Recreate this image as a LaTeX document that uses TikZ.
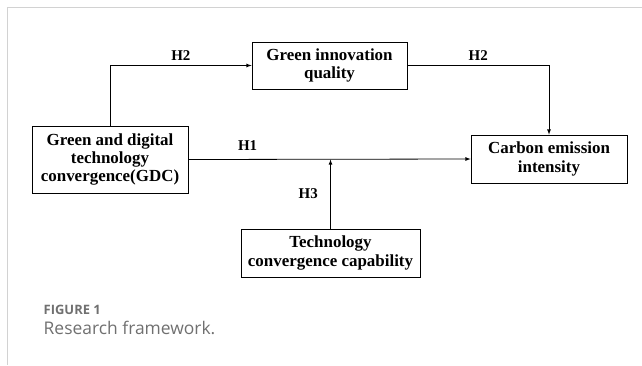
\documentclass[tikz,border=0pt]{standalone}
\usepackage{fontspec}
\setmainfont{Liberation Serif}
\newfontfamily\capfont{Open Sans}
\usetikzlibrary{arrows}

\definecolor{capgray}{HTML}{707070}
\definecolor{rulegray}{HTML}{D2D2D2}

\begin{document}
\begin{tikzpicture}[x=1bp,y=-1bp,>=latex,line width=0.8bp]
       \tikzstyle{var}=[draw,align=center,inner sep=2bp,
              font=\bfseries\fontsize{17}{18.5}\selectfont]
       \tikzstyle{hyp}=[font=\bfseries\fontsize{15}{16}\selectfont]

       \useasboundingbox (0,0) rectangle (642,365);
       % page frame
       \draw[rulegray,line width=1bp] (642,7) -- (7,7) -- (7,365);

       \node[var, minimum width=156bp, minimum height=67bp] (GDC) at (110,159.5)
              {Green and digital\\technology\\convergence(GDC)};
       \node[var, minimum width=155bp, minimum height=47bp] (GIQ) at (329.5,65.5)
              {Green innovation\\quality};
       \node[var, minimum width=156bp, minimum height=48bp] (CEI) at (549,159)
              {Carbon emission\\intensity};
       \node[var, minimum width=179bp, minimum height=48bp] (TCC) at (330.5,253)
              {Technology\\convergence capability};

       \coordinate (M) at (TCC.north |- GDC.east);

       \draw[->] (GDC.north) |- node[hyp, pos=0.75, above=1bp] {H2} (GIQ.west);
       \draw[->] (GIQ.east) -| node[hyp, pos=0.25, above=1bp] {H2} (CEI.north);
       \draw[->] (GDC.east) -- node[hyp, pos=0.21, above=5bp] {H1} (CEI.west);
       \draw[->] (TCC.north) -- node[hyp, left=9bp] {H3} (M);

       % caption
       \node[anchor=west, text=capgray, font=\capfont\bfseries\fontsize{13}{14}\selectfont]
              (fig) at (40,310) {FIGURE 1};
       \node[anchor=west, text=capgray, font=\capfont\fontsize{17.5}{19}\selectfont]
              (cap) at (40,328) {Research framework.};
\end{tikzpicture}
\end{document}
